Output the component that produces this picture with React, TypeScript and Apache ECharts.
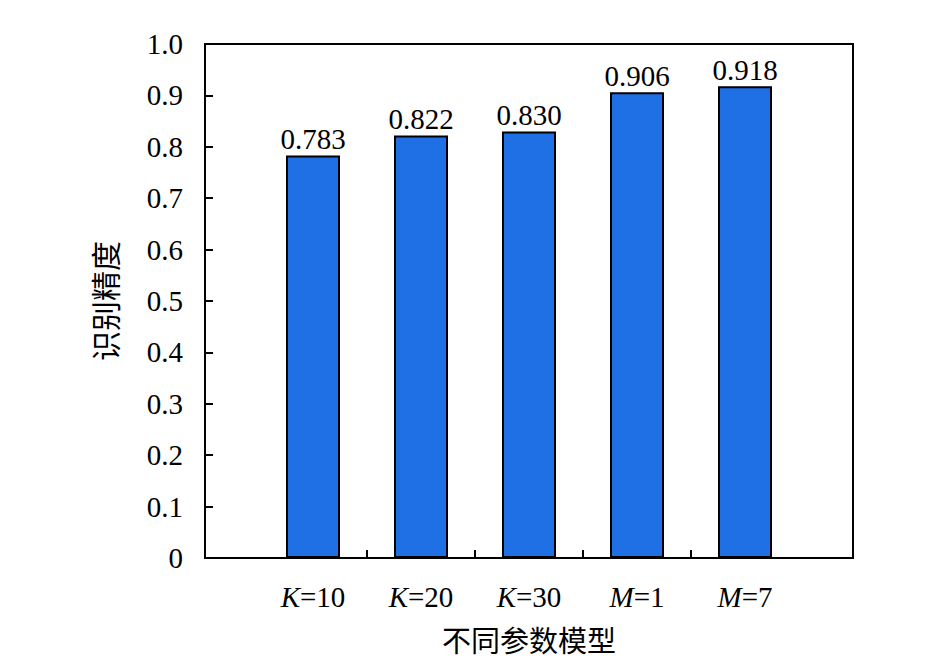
import React, { useEffect, useRef } from "react";
import * as echarts from "echarts";

const categories = ["K=10", "K=20", "K=30", "M=1", "M=7"];
const italicPart = ["K", "K", "K", "M", "M"];
const restPart = ["=10", "=20", "=30", "=1", "=7"];
const values = [0.783, 0.822, 0.83, 0.906, 0.918];
const valueLabels = ["0.783", "0.822", "0.830", "0.906", "0.918"];
const yTicks = [0, 0.1, 0.2, 0.3, 0.4, 0.5, 0.6, 0.7, 0.8, 0.9, 1.0];
const xLabelPositions = [1, 2, 3, 4, 5];
const xTickPositions = [1.5, 2.5, 3.5, 4.5];

const serif = "Liberation Serif";
const cjk = "Noto Sans CJK SC";

export default function App() {
  const ref = useRef<HTMLDivElement>(null);
  useEffect(() => {
    if (!ref.current) return;
    const chart = echarts.init(ref.current, null, { renderer: "svg" });
    chart.setOption({
      animation: false,
      backgroundColor: "#fff",
      textStyle: { fontFamily: serif },
      grid: {
        left: 205,
        right: 92,
        top: 44,
        bottom: 100,
        outerBoundsMode: "none",
        containLabel: false,
        show: true,
        borderColor: "#000",
        borderWidth: 2,
        backgroundColor: "transparent",
      },
      xAxis: {
        type: "value",
        min: 0,
        max: 6,
        name: "不同参数模型",
        nameLocation: "middle",
        nameGap: 66,
        nameTextStyle: { fontFamily: cjk, fontSize: 29, color: "#000" },
        splitLine: { show: false },
        axisLine: { show: true, lineStyle: { color: "#000", width: 2 } },
        axisTick: {
          show: true,
          inside: true,
          length: 8,
          customValues: xTickPositions,
          lineStyle: { color: "#000", width: 2 },
        },
        axisLabel: {
          customValues: xLabelPositions,
          margin: 24,
          fontFamily: serif,
          formatter: (v: number) => {
            const i = Math.round(v) - 1;
            return `{i|${italicPart[i]}}{n|${restPart[i]}}`;
          },
          rich: {
            i: { fontFamily: serif, fontSize: 29, fontStyle: "italic", color: "#000" },
            n: { fontFamily: serif, fontSize: 29, color: "#000" },
          },
        },
      },
      yAxis: {
        type: "value",
        min: 0,
        max: 1,
        interval: 0.1,
        name: "识别精度",
        nameLocation: "middle",
        nameGap: 86,
        nameRotate: 90,
        nameTextStyle: { fontFamily: cjk, fontSize: 30, color: "#000" },
        splitLine: { show: false },
        axisLine: { show: true, lineStyle: { color: "#000", width: 2 } },
        axisTick: {
          show: true,
          inside: true,
          length: 8,
          lineStyle: { color: "#000", width: 2 },
        },
        axisLabel: {
          margin: 22,
          fontFamily: serif,
          fontSize: 29,
          color: "#000",
          formatter: (v: number) => {
            const t = yTicks.find((x) => Math.abs(x - v) < 1e-6);
            const val = t === undefined ? v : t;
            return val === 0 ? "0" : val.toFixed(1);
          },
        },
      },
      series: [
        {
          type: "bar",
          data: values.map((v, i) => [xLabelPositions[i], v]),
          barWidth: 54,
          itemStyle: { color: "#1f6fe5", borderColor: "#000", borderWidth: 2 },
          label: {
            show: true,
            position: "top",
            distance: 2,
            fontFamily: serif,
            fontSize: 29,
            color: "#000",
            formatter: (p: any) => valueLabels[p.dataIndex],
          },
        },
      ],
    });
    return () => chart.dispose();
  }, []);
  return (
    <div
      ref={ref}
      style={{ position: "absolute", left: 0, top: 0, width: 945, height: 658 }}
      data-categories={categories.join(",")}
    />
  );
}
